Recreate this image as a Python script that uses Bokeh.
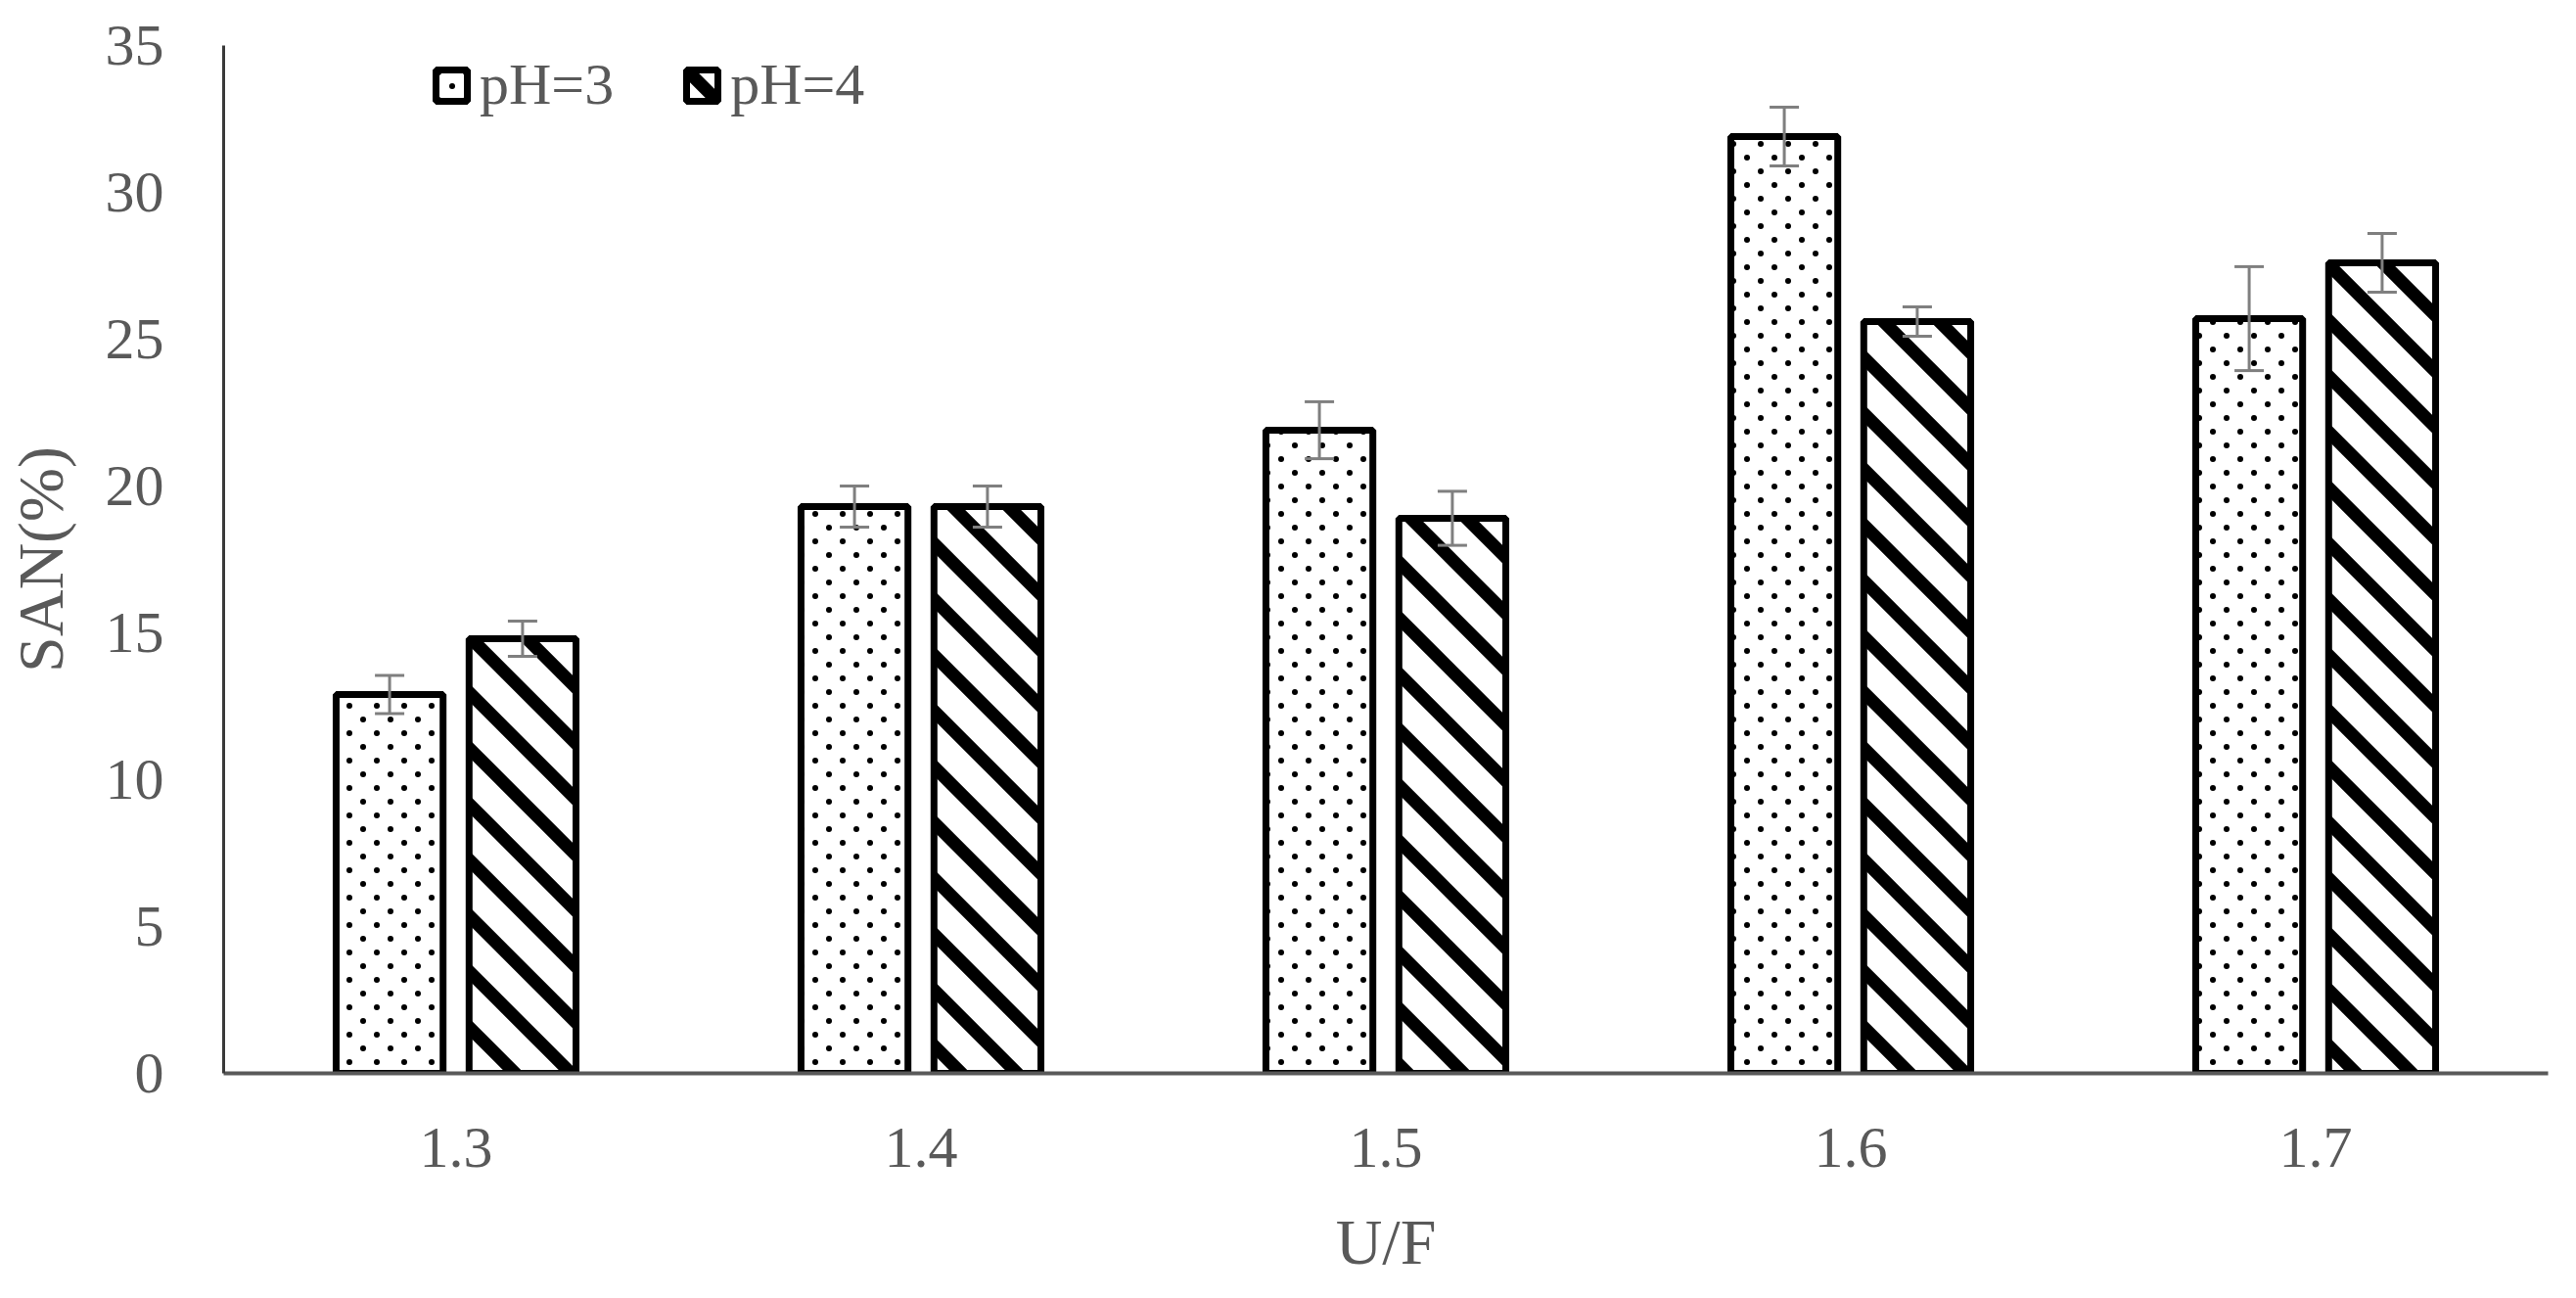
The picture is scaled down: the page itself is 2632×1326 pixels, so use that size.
import base64
from bokeh.plotting import figure
from bokeh.models import (FactorRange, Range1d, ColumnDataSource, Whisker, TeeHead,
                          Legend, LegendItem, ImageURLTexture, FixedTicker)
from bokeh.transform import dodge
from bokeh.core.properties import value
from bokeh.embed import file_html
from bokeh.resources import INLINE

categories = ["1.3", "1.4", "1.5", "1.6", "1.7"]
ph3 = [12.9, 19.3, 21.9, 31.9, 25.7]
ph3_err = [0.65, 0.7, 0.97, 1.0, 1.77]
ph4 = [14.8, 19.3, 18.9, 25.6, 27.6]
ph4_err = [0.6, 0.7, 0.92, 0.5, 1.0]
y_ticks = [0, 5, 10, 15, 20, 25, 30, 35]
series_names = ["pH=3", "pH=4"]

FONT = "Liberation Serif"
TXT = "#595959"

src = ColumnDataSource(dict(
    cat=categories,
    ph3=ph3, ph3_lo=[v - e for v, e in zip(ph3, ph3_err)], ph3_hi=[v + e for v, e in zip(ph3, ph3_err)],
    ph4=ph4, ph4_lo=[v - e for v, e in zip(ph4, ph4_err)], ph4_hi=[v + e for v, e in zip(ph4, ph4_err)],
))


def svg_url(svg):
    return "data:image/svg+xml;base64," + base64.b64encode(svg.encode()).decode()


# staggered dot texture and "\" stripe texture
dots_svg = ("<svg xmlns='http://www.w3.org/2000/svg' width='28' height='28' viewBox='0 0 28 28'>"
            "<circle cx='7' cy='7' r='3' fill='black'/><circle cx='21' cy='21' r='3' fill='black'/></svg>")
stripes_svg = ("<svg xmlns='http://www.w3.org/2000/svg' width='57' height='57' viewBox='0 0 57 57'>"
               "<path d='M-28.5,-28.5 L85.5,85.5 M-85.5,-28.5 L28.5,85.5 M28.5,-28.5 L142.5,85.5' "
               "stroke='black' stroke-width='13' fill='none'/></svg>")
dots_tex = ImageURLTexture(url=svg_url(dots_svg))
stripes_tex = ImageURLTexture(url=svg_url(stripes_svg))

p = figure(x_range=FactorRange(*categories, range_padding=0), y_range=Range1d(0, 35),
           width=2616, height=1310, output_backend="svg", toolbar_location=None,
           min_border_left=228, min_border_right=13, min_border_top=46, min_border_bottom=214)
p.outline_line_color = None
p.xgrid.grid_line_color = None
p.ygrid.grid_line_color = None

off = 0.143
bw = 0.23
r3 = p.vbar(x=dodge("cat", -off, range=p.x_range), top="ph3", width=bw, source=src,
            fill_color="white", line_color="black", line_width=7,
            hatch_pattern=value("dots"), hatch_extra={"dots": dots_tex}, hatch_color="black")
r4 = p.vbar(x=dodge("cat", off, range=p.x_range), top="ph4", width=bw, source=src,
            fill_color="white", line_color="black", line_width=7,
            hatch_pattern=value("stripes"), hatch_extra={"stripes": stripes_tex}, hatch_color="black")

for key, o in (("ph3", -off), ("ph4", off)):
    w = Whisker(base=dodge("cat", o, range=p.x_range), upper=key + "_hi", lower=key + "_lo", source=src,
                line_color="#7f7f7f", line_width=3, level="annotation",
                upper_head=TeeHead(size=30, line_color="#7f7f7f", line_width=3),
                lower_head=TeeHead(size=30, line_color="#7f7f7f", line_width=3))
    p.add_layout(w)

# axes
p.yaxis.ticker = FixedTicker(ticks=y_ticks)
for ax in (p.xaxis[0], p.yaxis[0]):
    ax.major_tick_line_color = None
    ax.minor_tick_line_color = None
    ax.major_label_text_font = FONT
    ax.major_label_text_font_size = "60px"
    ax.major_label_text_color = TXT
    ax.axis_label_text_font = FONT
    ax.axis_label_text_font_size = "66px"
    ax.axis_label_text_font_style = "normal"
    ax.axis_label_text_color = TXT
p.yaxis.axis_line_color = "#3a3a3a"
p.yaxis.axis_line_width = 3
p.xaxis.axis_line_color = "#595959"
p.xaxis.axis_line_width = 4
p.yaxis.major_label_standoff = 55
p.xaxis.major_label_standoff = 50
p.yaxis.axis_label = "SAN(%)"
p.yaxis.axis_label_standoff = 27
p.xaxis.axis_label = "U/F"
p.xaxis.axis_label_standoff = 37

legend = Legend(items=[LegendItem(label=series_names[0], renderers=[r3]),
                       LegendItem(label=series_names[1], renderers=[r4])],
                location=(213, 975), orientation="horizontal",
                glyph_width=40, glyph_height=40, label_height=66, label_standoff=9, spacing=70,
                padding=0, margin=0, border_line_color=None, background_fill_alpha=0,
                label_text_font=FONT, label_text_font_size="60px", label_text_color=TXT)
p.add_layout(legend, "center")

open("out.html", "w").write(file_html(p, INLINE))
